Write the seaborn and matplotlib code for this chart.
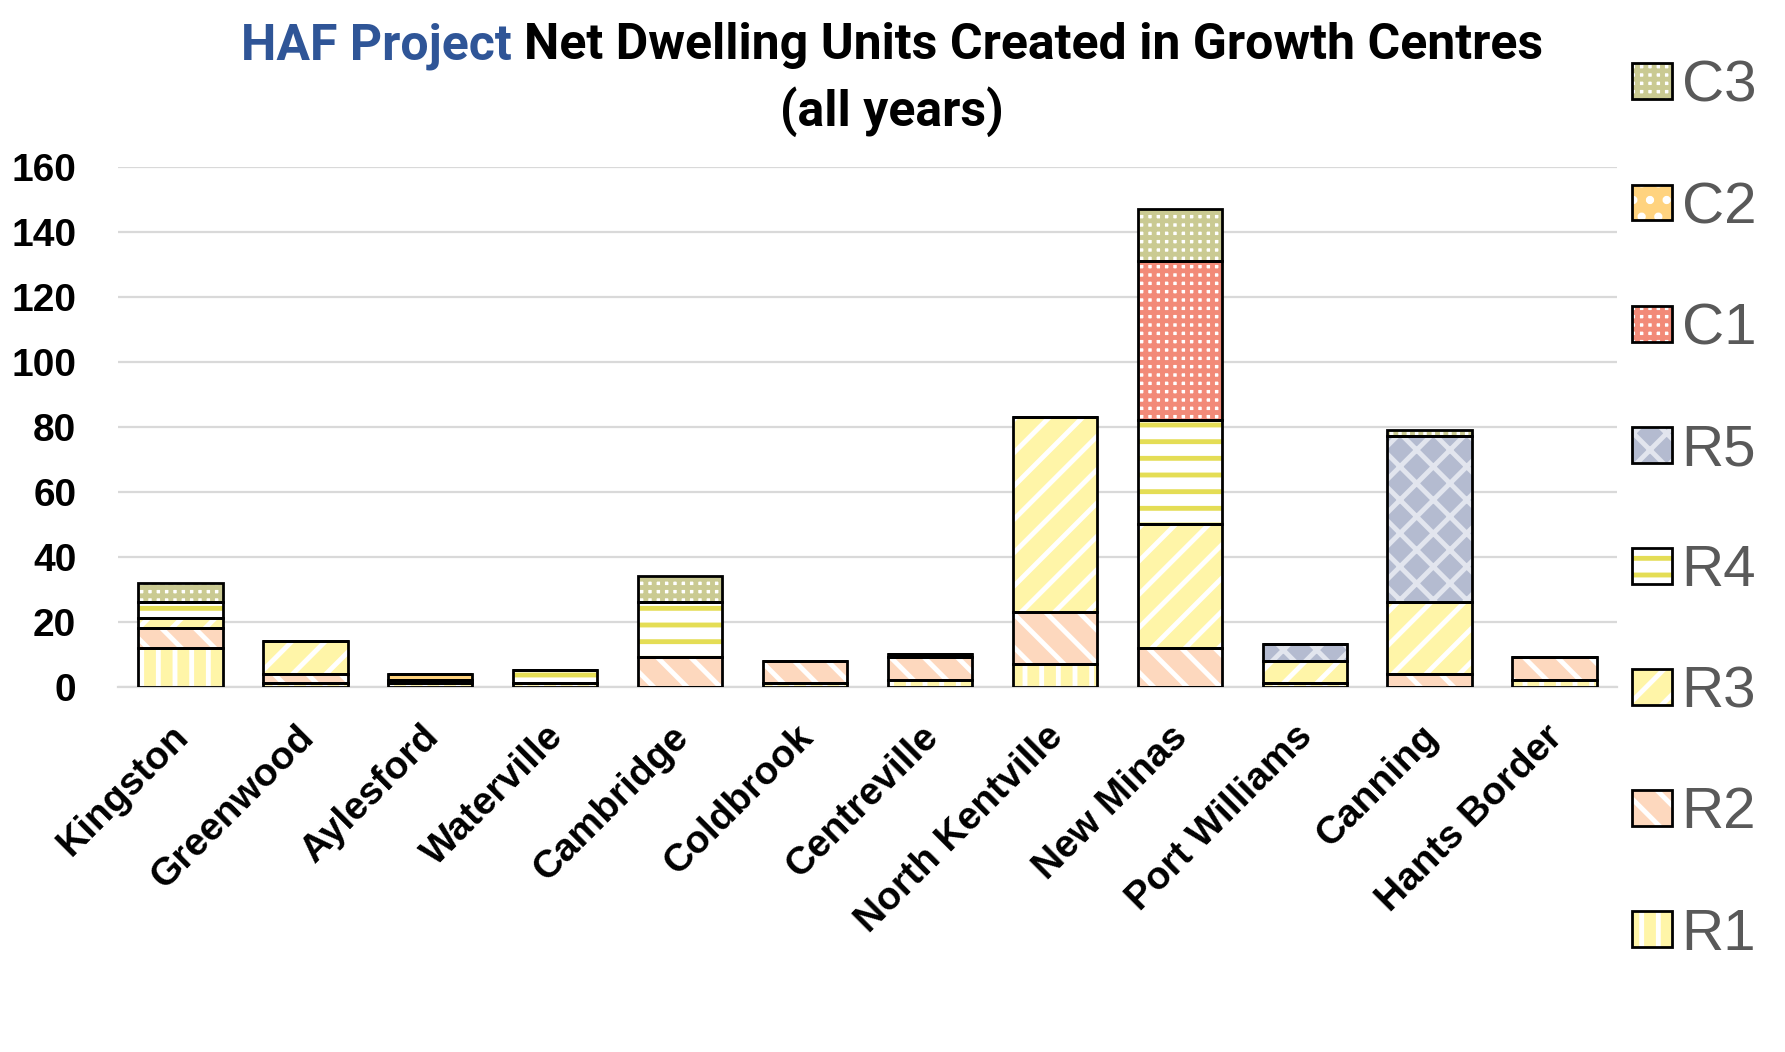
import matplotlib
matplotlib.use("Agg")
import matplotlib.pyplot as plt
from matplotlib.patches import Patch
from matplotlib.legend_handler import HandlerTuple
from matplotlib.transforms import ScaledTranslation
import numpy as np
import seaborn as sns

# ---------------- data ----------------
categories = ["Kingston", "Greenwood", "Aylesford", "Waterville", "Cambridge",
              "Coldbrook", "Centreville", "North Kentville", "New Minas",
              "Port Williams", "Canning", "Hants Border"]
R1 = [12, 1, 1, 1, 0, 1, 2, 7, 0, 1, 0, 2]
R2 = [6, 3, 1, 0, 9, 7, 7, 16, 12, 0, 4, 7]
R3 = [3, 10, 0, 0, 0, 0, 0, 60, 38, 7, 22, 0]
R4 = [5, 0, 0, 4, 17, 0, 1, 0, 32, 0, 0, 0]
R5 = [0, 0, 0, 0, 0, 0, 0, 0, 0, 5, 51, 0]
C1 = [0, 0, 0, 0, 0, 0, 0, 0, 49, 0, 0, 0]
C2 = [0, 0, 2, 0, 0, 0, 0, 0, 0, 0, 0, 0]
C3 = [6, 0, 0, 0, 8, 0, 0, 0, 16, 0, 2, 0]
series_names = ["R1", "R2", "R3", "R4", "R5", "C1", "C2", "C3"]
series_values = [R1, R2, R3, R4, R5, C1, C2, C3]
legend_order = ["C3", "C2", "C1", "R5", "R4", "R3", "R2", "R1"]
y_ticks = [0, 20, 40, 60, 80, 100, 120, 140, 160]

# ---------------- styles ----------------
plt.rcParams["hatch.linewidth"] = 3.5
styles = {
    "R1": dict(face="#FFF5A8", hatch="|", hcolor="white"),
    "R2": dict(face="#FDD8BE", hatch="\\", hcolor="white"),
    "R3": dict(face="#FFF5A8", hatch="/", hcolor="white"),
    "R4": dict(face="white", hatch="-", hcolor="#E4DD55"),
    "R5": dict(face="#B4BBD0", hatch="x", hcolor="#E2E5EE"),
    "C1": dict(face="white", hatch="++", hcolor="#F28A78"),
    "C2": dict(face="#FFD37F", hatch=".", hcolor="white"),
    "C3": dict(face="white", hatch="++", hcolor="#CACA92"),
}

W, H = 1785, 1052
fig = plt.figure(figsize=(W / 100, H / 100), dpi=100)
ax = fig.add_axes([118 / W, 1 - 686.7 / H, (1617 - 118) / W, (686.7 - 166.7) / H])

bar_w = 0.675
bottoms = np.zeros(len(categories))
bottom_list = []
for name, vals in zip(series_names, series_values):
    st = styles[name]
    sns.barplot(x=categories, y=vals, order=categories, bottom=bottoms.copy(),
                color=st["face"], facecolor=st["face"], edgecolor=st["hcolor"],
                hatch=st["hatch"], linewidth=0, width=bar_w, errorbar=None,
                saturation=1, ax=ax, zorder=2)
    bottom_list.append(bottoms.copy())
    bottoms = bottoms + np.array(vals, dtype=float)

# outlines on top
for name, vals, bot in zip(series_names, series_values, bottom_list):
    sns.barplot(x=categories, y=vals, order=categories, bottom=bot,
                color="black", facecolor="none", edgecolor="black", linewidth=2.0,
                width=bar_w, errorbar=None, ax=ax, zorder=3)

ax.set_xlim(-0.5, len(categories) - 0.5)
ax.set_ylim(0, 160)
ax.set_axisbelow(True)
ax.yaxis.grid(True, color="#D9D9D9", linewidth=1.6)
ax.xaxis.grid(False)
for s in ["top", "right", "left"]:
    ax.spines[s].set_visible(False)
ax.spines["bottom"].set_color("#D9D9D9")
ax.spines["bottom"].set_linewidth(1.6)
ax.set_xlabel("")
ax.set_ylabel("")

tick_font = ["Liberation Sans", "DejaVu Sans"]
ax.set_yticks(y_ticks)
ax.set_yticklabels([str(v) for v in y_ticks], fontsize=28, fontweight="bold",
                   family=tick_font)
ax.tick_params(axis="y", length=0, pad=30)
ax.set_xticks(range(len(categories)))
ax.set_xticklabels(categories, rotation=45, ha="right", va="top",
                   rotation_mode="anchor", fontsize=28, fontweight="bold",
                   family=tick_font)
ax.tick_params(axis="x", length=0, pad=23)
shift = ScaledTranslation(-10 / 100, 0, fig.dpi_scale_trans)
for lbl in ax.get_xticklabels():
    lbl.set_transform(lbl.get_transform() + shift)

# legend
handles = []
for name in legend_order:
    st = styles[name]
    p1 = Patch(facecolor=st["face"], edgecolor=st["hcolor"], hatch=st["hatch"], linewidth=0)
    p2 = Patch(facecolor="none", edgecolor="black", linewidth=2.0)
    handles.append((p1, p2))
leg = fig.legend(handles, legend_order,
                 handler_map={tuple: HandlerTuple(ndivide=1, pad=0)},
                 loc="upper left", bbox_to_anchor=(1632 / W, 1 - 60 / H),
                 frameon=False, borderpad=0, borderaxespad=0,
                 prop=dict(family=tick_font, size=42),
                 labelcolor="#595959", handlelength=0.69, handleheight=0.57,
                 handletextpad=0.16, labelspacing=1.15)

# title
renderer = fig.canvas.get_renderer()
title_font = ["Liberation Sans Narrow", "Roboto", "DejaVu Sans"]
part1 = "HAF Project"
part2 = "Net Dwelling Units Created in Growth Centres"
full = part1 + " " + part2
fs = 34
tmp = fig.text(0, 0, full, fontsize=fs, fontweight="bold", family=title_font)
wfull = tmp.get_window_extent(renderer).width
tmp.remove()
fs = fs * 1303 / wfull
xc = 892
tmp = fig.text(0, 0, full, fontsize=fs, fontweight="bold", family=title_font)
wfull = tmp.get_window_extent(renderer).width
tmp.remove()
left = xc - wfull / 2
right = xc + wfull / 2
fig.text(left / W, 1 - 59 / H, part1, fontsize=fs, fontweight="bold",
         family=title_font, color="#2F5597", ha="left", va="baseline")
fig.text(right / W, 1 - 59 / H, part2, fontsize=fs, fontweight="bold",
         family=title_font, color="black", ha="right", va="baseline")
fig.text(xc / W, 1 - 126 / H, "(all years)", fontsize=fs, fontweight="bold",
         family=title_font, color="black", ha="center", va="baseline")

fig.savefig("out.png", dpi=100)
